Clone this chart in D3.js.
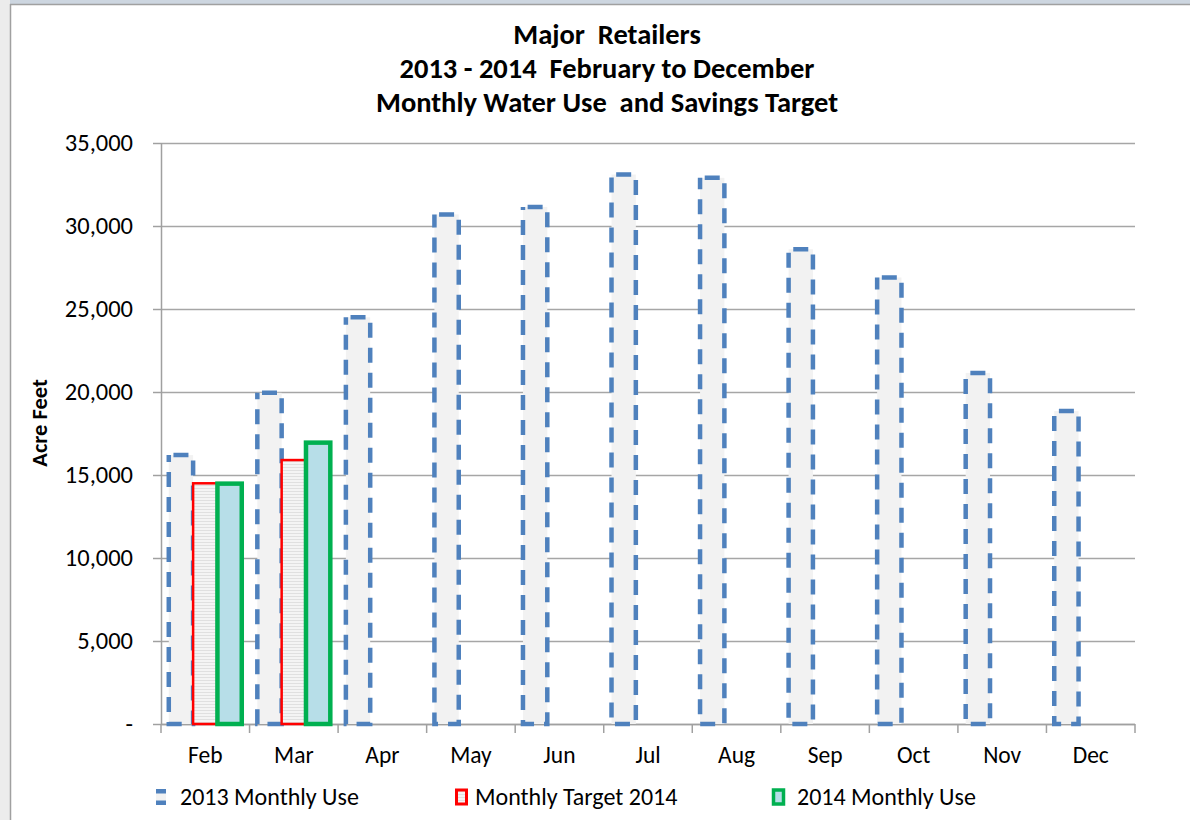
<!DOCTYPE html>
<html>
<head>
<meta charset="utf-8">
<script src="https://cdn.jsdelivr.net/npm/d3@7"></script>
<style>
  body { margin: 0; background: #fff; }
  svg text { font-family: Carlito, Calibri, "Open Sans", sans-serif; fill: #000; }
</style>
</head>
<body>
<svg width="1190" height="820"></svg>
<script>
const months = ['Feb', 'Mar', 'Apr', 'May', 'Jun', 'Jul', 'Aug', 'Sep', 'Oct', 'Nov', 'Dec'];
const use2013 = [16200, 19950, 24500, 30700, 31150, 33100, 32900, 28600, 26900, 21150, 18850];
const target2014 = [14500, 15900];
const use2014 = [14480, 16950];
const yTicks = [0, 5000, 10000, 15000, 20000, 25000, 30000, 35000];
const titleLines = ['Major  Retailers', '2013 - 2014  February to December', 'Monthly Water Use  and Savings Target'];
const seriesNames = ['2013 Monthly Use', 'Monthly Target 2014', '2014 Monthly Use'];

const svg = d3.select('svg');
const width = +svg.attr('width');
const height = +svg.attr('height');
const margin = { left: 161, right: 55, top: 143, bottom: 96 };
const innerWidth = width - margin.left - margin.right;
const innerHeight = height - margin.top - margin.bottom;

// window-ish frame
svg.append('rect').attr('width', width).attr('height', height).attr('fill', '#fff');
svg.append('rect').attr('width', width).attr('height', 4).attr('fill', '#cdd6e0');
svg.append('rect').attr('width', 10).attr('height', height).attr('fill', '#ececec');
svg.append('line').attr('x1', 10).attr('x2', width).attr('y1', 4.5).attr('y2', 4.5)
  .attr('stroke', '#a0a0a0').attr('stroke-width', 1.5);
svg.append('line').attr('x1', 10.5).attr('x2', 10.5).attr('y1', 4).attr('y2', height)
  .attr('stroke', '#a0a0a0').attr('stroke-width', 1.5);

const defs = svg.append('defs');
const pat = defs.append('pattern').attr('id', 'hstripe')
  .attr('patternUnits', 'userSpaceOnUse').attr('width', 6).attr('height', 3);
pat.append('rect').attr('width', 6).attr('height', 3).attr('fill', '#f4f4f4');
pat.append('rect').attr('width', 6).attr('height', 1).attr('fill', '#e0e0e0');

const g = svg.append('g')
  .attr('transform', `translate(${margin.left},${margin.top})`);

const xScale = d3.scaleBand().domain(months).range([0, innerWidth]).padding(0);
const inner = d3.scaleBand().domain(seriesNames).range([0, xScale.bandwidth()])
  .paddingInner(0).paddingOuter(0.32);
const yScale = d3.scaleLinear().domain([0, 35000]).range([innerHeight, 0]);

// gridlines
const gridG = g.append('g').call(d3.axisLeft(yScale).tickValues(yTicks)
  .tickSize(-innerWidth).tickFormat(''));
gridG.select('.domain').remove();
gridG.selectAll('.tick text').remove();
gridG.selectAll('.tick line').attr('stroke', '#a6a6a6').attr('stroke-width', 1.5);

// y axis
const yAxisG = g.append('g').call(d3.axisLeft(yScale).tickValues(yTicks)
  .tickSize(8).tickPadding(20)
  .tickFormat(d => d === 0 ? '-' : d3.format(',')(d)));
yAxisG.select('.domain').attr('stroke', '#a0a0a0').attr('stroke-width', 1.5)
  .attr('d', `M0.5,${innerHeight}V0`);
yAxisG.selectAll('.tick line').attr('stroke', '#a0a0a0').attr('stroke-width', 1.5);
yAxisG.selectAll('.tick text').style('font-size', '24.5px').attr('fill', '#000');

// x axis
const xAxisG = g.append('g').attr('transform', `translate(0,${innerHeight})`)
  .call(d3.axisBottom(xScale).tickSize(0).tickPadding(22));
xAxisG.select('.domain').attr('stroke', '#a0a0a0').attr('stroke-width', 1.5)
  .attr('d', `M0,0.5H${innerWidth}`);
xAxisG.selectAll('.tick text').style('font-size', '23.5px').attr('fill', '#000');
xAxisG.selectAll('line.bound')
  .data(months.map(m => xScale(m)).concat([innerWidth]))
  .enter().append('line').attr('class', 'bound')
  .attr('x1', d => d).attr('x2', d => d).attr('y1', 0).attr('y2', 9)
  .attr('stroke', '#a0a0a0').attr('stroke-width', 1.5);

// bars
const bw = inner.bandwidth();
g.selectAll('rect.b2013').data(use2013).enter().append('rect')
  .attr('class', 'b2013')
  .attr('x', (d, i) => xScale(months[i]) + inner(seriesNames[0]))
  .attr('y', d => yScale(d))
  .attr('width', bw)
  .attr('height', d => innerHeight - yScale(d))
  .attr('fill', '#f2f2f2')
  .attr('stroke', '#4f81bd').attr('stroke-width', 4.5)
  .attr('stroke-dasharray', '15,10')
  .attr('stroke-dashoffset', 25 - (bw - 15) / 2);

g.selectAll('rect.target').data(target2014).enter().append('rect')
  .attr('class', 'target')
  .attr('x', (d, i) => xScale(months[i]) + inner(seriesNames[1]))
  .attr('y', d => yScale(d))
  .attr('width', bw)
  .attr('height', d => innerHeight - yScale(d))
  .attr('fill', 'url(#hstripe)')
  .attr('stroke', '#ff0000').attr('stroke-width', 2.5);

g.selectAll('rect.b2014').data(use2014).enter().append('rect')
  .attr('class', 'b2014')
  .attr('x', (d, i) => xScale(months[i]) + inner(seriesNames[2]))
  .attr('y', d => yScale(d))
  .attr('width', bw)
  .attr('height', d => innerHeight - yScale(d))
  .attr('fill', '#b7dee8')
  .attr('stroke', '#00b050').attr('stroke-width', 4.5);

// titles
svg.append('g').selectAll('text').data(titleLines).enter().append('text')
  .attr('x', 607)
  .attr('y', (d, i) => 44 + i * 34)
  .attr('text-anchor', 'middle')
  .style('font-size', '28.5px').style('font-weight', 'bold').style('white-space', 'pre')
  .text(d => d);

svg.append('text')
  .attr('transform', `translate(47,423) rotate(-90)`)
  .attr('text-anchor', 'middle')
  .style('font-size', '22.5px').style('font-weight', 'bold')
  .text('Acre Feet');

// legend
const legendX = [155, 455, 772];
const lg = svg.append('g').selectAll('g').data(seriesNames).enter().append('g')
  .attr('transform', (d, i) => `translate(${legendX[i]},788)`);
const blueKey = lg.filter((d, i) => i === 0);
blueKey.append('rect').attr('x', 1).attr('y', 1).attr('width', 10).attr('height', 16)
  .attr('fill', '#f2f2f2');
blueKey.append('rect').attr('x', 1).attr('y', 1).attr('width', 10).attr('height', 4.5)
  .attr('fill', '#4f81bd');
blueKey.append('rect').attr('x', 1).attr('y', 12.5).attr('width', 10).attr('height', 4.5)
  .attr('fill', '#4f81bd');
lg.filter((d, i) => i === 1).append('rect')
  .attr('x', 1.5).attr('y', 2).attr('width', 10).attr('height', 14)
  .attr('fill', 'url(#hstripe)').attr('stroke', '#ff0000').attr('stroke-width', 3);
lg.filter((d, i) => i === 2).append('rect')
  .attr('x', 1.5).attr('y', 2).attr('width', 10).attr('height', 14)
  .attr('fill', '#b7dee8').attr('stroke', '#00b050').attr('stroke-width', 3.5);
lg.append('text')
  .attr('x', (d, i) => i === 1 ? 20 : 25)
  .attr('y', 17)
  .style('font-size', '24px')
  .text(d => d);
</script>
</body>
</html>
